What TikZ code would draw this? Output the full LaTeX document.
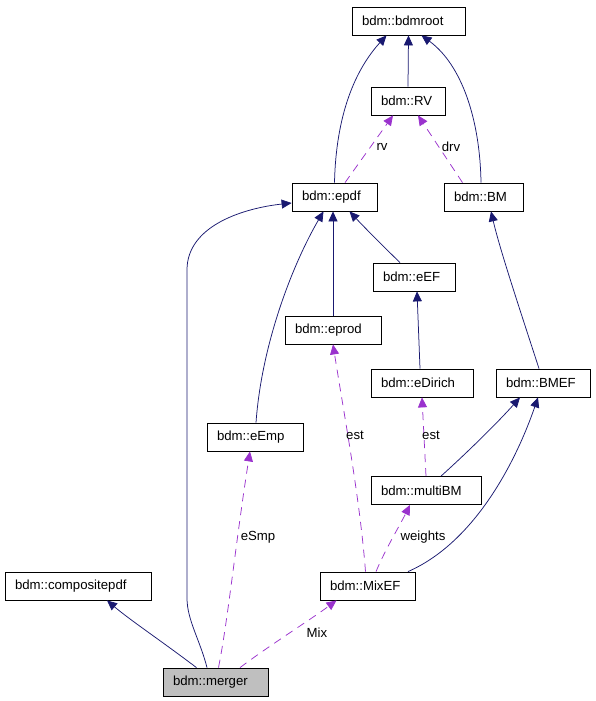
\documentclass[tikz,border=0pt]{standalone}
\usepackage{fontspec}
\setmainfont{Liberation Sans}
\usetikzlibrary{arrows.meta}
\definecolor{navy}{HTML}{191970}
\definecolor{orchid}{HTML}{9A32CD}
\tikzset{
  cls/.style={draw=black, line width=0.8pt, fill=white, minimum height=28pt, inner ysep=0pt, inner xsep=10pt, text width=#1, align=left, font=\fontsize{13.2pt}{15pt}\selectfont},
  inh/.style={draw=navy, line width=0.75pt, -{Triangle[length=10pt,width=9pt]}, fill=none},
  use/.style={draw=orchid, line width=0.75pt, dash pattern=on 8pt off 6pt, -{Triangle[length=10pt,width=9pt]}, fill=none},
  lbl/.style={font=\fontsize{13.2pt}{15pt}\selectfont, inner sep=0pt}
}
\begin{document}
\begin{tikzpicture}[x=1pt,y=-1pt]
\useasboundingbox (0,0) rectangle (595,701);
\node[cls=93pt] (root) at (408.5,21) {bdm::bdmroot};
\node[cls=54pt] (rv) at (408,101) {bdm::RV};
\node[cls=65pt] (epdf) at (334.5,197) {bdm::epdf};
\node[cls=59pt] (bm) at (483.5,197) {bdm::BM};
\node[cls=62pt] (eef) at (414,277) {bdm::eEF};
\node[cls=76pt] (eprod) at (333,330) {bdm::eprod};
\node[cls=82pt] (edir) at (422,383) {bdm::eDirich};
\node[cls=74pt] (bmef) at (543,383) {bdm::BMEF};
\node[cls=76pt] (eemp) at (255,437) {bdm::eEmp};
\node[cls=90pt] (multi) at (426,490.5) {bdm::multiBM};
\node[cls=126pt] (comp) at (78,586) {bdm::compositepdf};
\node[cls=75pt] (mixef) at (367.5,586) {bdm::MixEF};
\node[cls=85pt, fill={rgb,255:red,191;green,191;blue,191}] (merger) at (215.5,682) {bdm::merger};

% inheritance (solid navy)
\draw[inh] (epdf.north) .. controls (336,115) and (355,70) .. ([xshift=-22pt]root.south);
\draw[inh] (rv.north) -- (root.south);
\draw[inh] ([xshift=-2.5pt]bm.north) .. controls (480,120) and (462,65) .. ([xshift=13pt]root.south);
\draw[inh] ([xshift=-14pt]eef.north) .. controls (385,248) and (365,228) .. ([xshift=15pt]epdf.south);
\draw[inh] (eprod.north) -- ([xshift=-1.5pt]epdf.south);
\draw[inh] ([xshift=1pt]eemp.north) .. controls (262,340) and (295,260) .. ([xshift=-11pt]epdf.south);
\draw[inh] ([xshift=-8.5pt]merger.north) .. controls (200,640) and (187,620) .. (187,598) -- (187,270) .. controls (187,225) and (245,208) .. ([yshift=-6pt]epdf.west);
\draw[inh] ([xshift=-2pt]edir.north) -- ([xshift=3pt]eef.south);
\draw[inh] ([xshift=-4pt]bmef.north) .. controls (520,310) and (500,250) .. ([xshift=7.5pt]bm.south);
\draw[inh] ([xshift=15pt]multi.north) .. controls (470,450) and (500,420) .. ([xshift=-23pt]bmef.south);
\draw[inh] ([xshift=40.5pt]mixef.north) .. controls (480,540) and (520,450) .. ([xshift=-5pt]bmef.south);
\draw[inh] ([xshift=-19pt]merger.north) .. controls (160,640) and (130,620) .. ([xshift=29pt]comp.south);

% usage (dashed purple)
\draw[use] ([xshift=10.5pt]epdf.north) -- ([xshift=-15pt]rv.south);
\draw[use] ([xshift=-21pt]bm.north) -- ([xshift=10pt]rv.south);
\draw[use] (multi.north) -- (edir.south);
\draw[use] ([xshift=-2pt]mixef.north) .. controls (360,500) and (345,420) .. (eprod.south);
\draw[use] ([xshift=8.5pt]mixef.north) .. controls (385,550) and (400,525) .. ([xshift=-16pt]multi.south);
\draw[use] ([xshift=3pt]merger.north) .. controls (228,620) and (236,540) .. ([xshift=-5pt]eemp.south);
\draw[use] ([xshift=24.5pt]merger.north) .. controls (270,645) and (310,620) .. ([xshift=-31pt]mixef.south);

\node[lbl] (lrv) at (382,147) {rv};
\node[lbl] (ldrv) at (451,147) {drv};
\node[lbl] (lest1) at (355,435) {est};
\node[lbl] (lest2) at (431,435) {est};
\node[lbl] (lw) at (423,537) {weights};
\node[lbl] (lesmp) at (258,537) {eSmp};
\node[lbl] (lmix) at (317,633) {Mix};
\end{tikzpicture}
\end{document}
